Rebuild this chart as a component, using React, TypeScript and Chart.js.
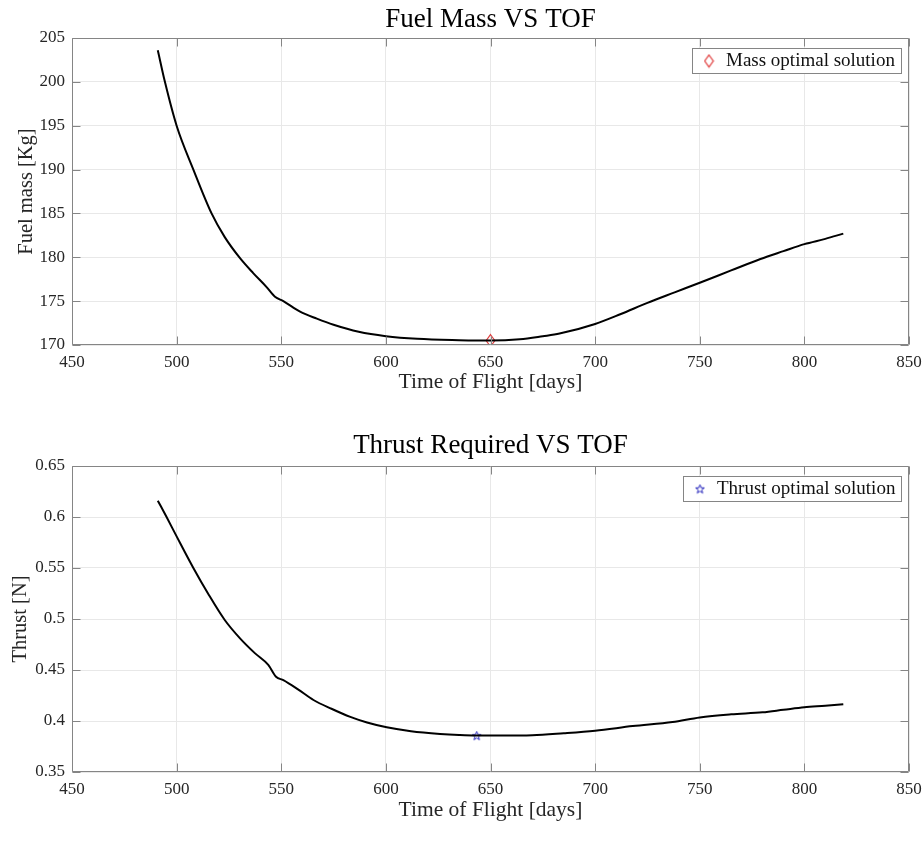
import React, { useEffect, useRef } from "react";
import { Chart, registerables } from "chart.js";

Chart.register(...registerables);

const FONT = '"Liberation Serif", "Times New Roman", serif';

// ---- Data ----
const tofMass = [491, 494.4, 500, 508, 516.7, 523, 530.3, 536.6, 543, 547, 551, 559, 567, 575, 587, 600, 615, 635, 650, 664, 675, 683, 700, 712, 725, 738, 750, 765, 779, 790, 800, 810, 818.6];
const fuelMass = [203.6, 200.0, 195.0, 190.0, 185.0, 182.3, 179.9, 178.2, 176.6, 175.5, 175.0, 173.8, 173.0, 172.3, 171.5, 171.0, 170.7, 170.55, 170.5, 170.65, 171.0, 171.3, 172.4, 173.5, 174.8, 176.0, 177.1, 178.5, 179.8, 180.7, 181.5, 182.1, 182.7];

const tofThrust = [491, 495.2, 500, 508, 515, 523, 530.3, 537.5, 543.8, 547.5, 551, 558, 565.4, 574, 583, 591, 600.4, 612, 625.9, 635, 643, 655, 670, 685, 700, 718, 737, 750, 765, 780, 790, 800, 810, 818.6];
const thrustN = [0.616, 0.600, 0.581, 0.550, 0.525, 0.499, 0.481, 0.4663, 0.455, 0.4434, 0.440, 0.431, 0.4206, 0.412, 0.404, 0.3985, 0.3938, 0.390, 0.3873, 0.3862, 0.3857, 0.3857, 0.386, 0.388, 0.3905, 0.395, 0.399, 0.4035, 0.4065, 0.4085, 0.411, 0.4135, 0.415, 0.4165];

const massOptimalTof = [650];
const massOptimalValue = [170.5];
const thrustOptimalTof = [643.4];
const thrustOptimalValue = [0.3856];

const tofTicks = [450, 500, 550, 600, 650, 700, 750, 800, 850];
const massTicks = [170, 175, 180, 185, 190, 195, 200, 205];
const thrustTicks = [0.35, 0.4, 0.45, 0.5, 0.55, 0.6, 0.65];

const massTitle = "Fuel Mass VS TOF";
const thrustTitle = "Thrust Required VS TOF";
const xTitle = "Time of Flight [days]";
const massYTitle = "Fuel mass [Kg]";
const thrustYTitle = "Thrust [N]";
const massLegend = "Mass optimal solution";
const thrustLegend = "Thrust optimal solution";

function makeDiamond(color: string) {
  const c = document.createElement("canvas");
  c.width = 11;
  c.height = 15;
  const g = c.getContext("2d")!;
  g.strokeStyle = color;
  g.lineWidth = 1.1;
  g.beginPath();
  g.moveTo(5.5, 1.5);
  g.lineTo(9.8, 7.5);
  g.lineTo(5.5, 13.5);
  g.lineTo(1.2, 7.5);
  g.closePath();
  g.stroke();
  return c;
}

function makeStar(color: string) {
  const c = document.createElement("canvas");
  c.width = 11;
  c.height = 11;
  const g = c.getContext("2d")!;
  g.strokeStyle = color;
  g.lineWidth = 1;
  g.beginPath();
  const cx = 5.5, cy = 5.8, R = 4.6, r = 1.9;
  for (let i = 0; i < 10; i++) {
    const ang = -Math.PI / 2 + (i * Math.PI) / 5;
    const rad = i % 2 === 0 ? R : r;
    const px = cx + rad * Math.cos(ang);
    const py = cy + rad * Math.sin(ang);
    if (i === 0) g.moveTo(px, py);
    else g.lineTo(px, py);
  }
  g.closePath();
  g.stroke();
  return c;
}

function framePlugin(title: string, titleBaseline: number, legendText: string, marker: HTMLCanvasElement, xt: number[], yt: number[]) {
  return {
    id: "frame",
    afterDraw(chart: any) {
      const { ctx, chartArea: a, scales } = chart;
      ctx.save();
      ctx.strokeStyle = "#858585";
      ctx.lineWidth = 1;
      const L = Math.round(a.left) + 0.5;
      const R = Math.round(a.right) - 0.5;
      const T = Math.round(a.top) + 0.5;
      const B = Math.round(a.bottom) - 0.5;
      ctx.beginPath();
      ctx.rect(L, T, R - L, B - T);
      const tl = 8;
      xt.forEach((v) => {
        const px = Math.round(scales.x.getPixelForValue(v)) + 0.5;
        ctx.moveTo(px, B);
        ctx.lineTo(px, B - tl);
        ctx.moveTo(px, T);
        ctx.lineTo(px, T + tl);
      });
      yt.forEach((v) => {
        const py = Math.round(scales.y.getPixelForValue(v)) + 0.5;
        ctx.moveTo(L, py);
        ctx.lineTo(L + tl, py);
        ctx.moveTo(R, py);
        ctx.lineTo(R - tl, py);
      });
      ctx.stroke();

      // title centred over the plot area
      ctx.font = `27px ${FONT}`;
      ctx.fillStyle = "#000000";
      ctx.textAlign = "center";
      ctx.textBaseline = "alphabetic";
      ctx.fillText(title, (a.left + a.right) / 2, titleBaseline);

      // legend box inside the plot area (top-right)
      ctx.font = `19px ${FONT}`;
      const tw = ctx.measureText(legendText).width;
      const w = Math.round(tw + 40);
      const h = 25;
      const right = Math.round(a.right) - 8;
      const top = Math.round(a.top) + 10;
      const left = right - w;
      ctx.fillStyle = "#ffffff";
      ctx.fillRect(left, top, w, h);
      ctx.strokeStyle = "#858585";
      ctx.strokeRect(left + 0.5, top + 0.5, w, h);
      ctx.drawImage(marker, left + 17 - marker.width / 2, top + h / 2 - marker.height / 2 + 0.5);
      ctx.fillStyle = "#111111";
      ctx.textAlign = "left";
      ctx.textBaseline = "middle";
      ctx.fillText(legendText, left + 34, top + h / 2 + 1);
      ctx.restore();
    },
  };
}

function fmt(v: number) {
  return String(Number(v.toFixed(2)));
}

function buildConfig(p: any) {
  return {
    type: "scatter",
    data: {
      datasets: [
        {
          data: p.xs.map((x: number, i: number) => ({ x, y: p.ys[i] })),
          showLine: true,
          borderColor: "#000000",
          borderWidth: 2,
          pointRadius: 0,
          cubicInterpolationMode: "monotone",
        },
        {
          data: p.mx.map((x: number, i: number) => ({ x, y: p.my[i] })),
          showLine: false,
          pointStyle: p.marker,
          pointRadius: 5,
          borderColor: p.markerColor,
        },
      ],
    },
    options: {
      responsive: false,
      animation: false,
      events: [],
      layout: { padding: { left: 0, right: 15, top: p.plotTop, bottom: 0 } },
      plugins: {
        legend: { display: false },
        tooltip: { enabled: false },
        title: { display: false },
      },
      scales: {
        x: {
          type: "linear",
          min: 450,
          max: 850,
          afterBuildTicks: (s: any) => {
            s.ticks = tofTicks.map((v) => ({ value: v }));
          },
          afterFit: (s: any) => {
            s.height = p.xHeight;
            s.paddingLeft = 0;
            s.paddingRight = 0;
          },
          grid: { color: "#e8e8e8", drawTicks: false, lineWidth: 1 },
          border: { display: false },
          ticks: {
            color: "#262626",
            font: { family: FONT, size: 17 },
            padding: 7,
            maxRotation: 0,
            callback: (v: any) => fmt(Number(v)),
          },
          title: {
            display: true,
            text: xTitle,
            color: "#262626",
            font: { family: FONT, size: 21.5 },
            padding: { top: 0, bottom: p.xTitlePad },
          },
        },
        y: {
          type: "linear",
          min: p.yMin,
          max: p.yMax,
          afterBuildTicks: (s: any) => {
            s.ticks = p.yTicks.map((v: number) => ({ value: v }));
          },
          afterFit: (s: any) => {
            s.width = 72;
            s.paddingTop = 0;
            s.paddingBottom = 0;
          },
          grid: { color: "#e8e8e8", drawTicks: false, lineWidth: 1 },
          border: { display: false },
          ticks: {
            color: "#262626",
            font: { family: FONT, size: 17 },
            padding: 7,
            callback: (v: any) => fmt(Number(v)),
          },
          title: {
            display: true,
            text: p.yTitle,
            color: "#262626",
            font: { family: FONT, size: 20.5 },
            padding: { top: p.yTitlePad, bottom: 0 },
          },
        },
      },
    },
    plugins: [framePlugin(p.title, p.titleBaseline, p.legend, p.marker, tofTicks, p.yTicks)],
  };
}

export default function App() {
  const ref1 = useRef<HTMLCanvasElement>(null);
  const ref2 = useRef<HTMLCanvasElement>(null);

  useEffect(() => {
    const diamond = makeDiamond("#dd2a2a");
    const star = makeStar("#2222bb");
    const c1 = new Chart(
      ref1.current!,
      buildConfig({
        xs: tofMass,
        ys: fuelMass,
        mx: massOptimalTof,
        my: massOptimalValue,
        marker: diamond,
        markerColor: "#dd2a2a",
        title: massTitle,
        titleBaseline: 27,
        plotTop: 38,
        xHeight: 55,
        xTitlePad: 5,
        yMin: 170,
        yMax: 205,
        yTicks: massTicks,
        yTitle: massYTitle,
        yTitlePad: 14,
        legend: massLegend,
      }) as any
    );
    const c2 = new Chart(
      ref2.current!,
      buildConfig({
        xs: tofThrust,
        ys: thrustN,
        mx: thrustOptimalTof,
        my: thrustOptimalValue,
        marker: star,
        markerColor: "#2222bb",
        title: thrustTitle,
        titleBaseline: 53,
        plotTop: 66,
        xHeight: 80,
        xTitlePad: 29,
        yMin: 0.35,
        yMax: 0.65,
        yTicks: thrustTicks,
        yTitle: thrustYTitle,
        yTitlePad: 8,
        legend: thrustLegend,
      }) as any
    );
    return () => {
      c1.destroy();
      c2.destroy();
    };
  }, []);

  return (
    <div style={{ position: "absolute", left: 0, top: 0, width: 924, height: 852, background: "#ffffff" }}>
      <canvas ref={ref1} width={924} height={400} style={{ position: "absolute", left: 0, top: 0, width: 924, height: 400 }} />
      <canvas ref={ref2} width={924} height={452} style={{ position: "absolute", left: 0, top: 400, width: 924, height: 452 }} />
    </div>
  );
}
